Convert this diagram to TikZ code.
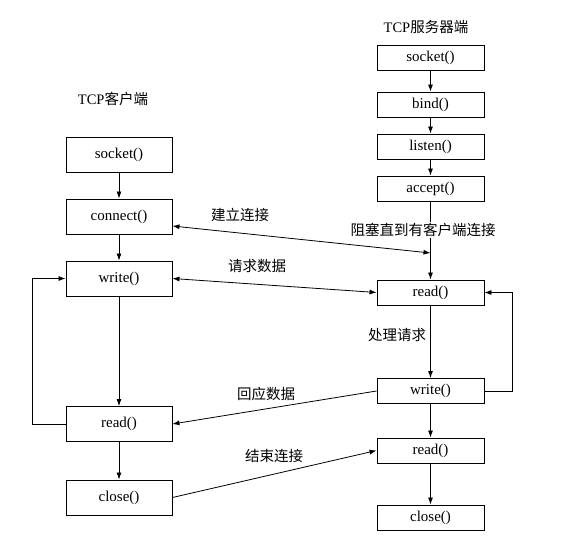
\documentclass[tikz,border=0pt]{standalone}
\usepackage{fontspec}
\setmainfont{Liberation Serif}
\newfontfamily\cjk{Noto Sans CJK SC}
\usetikzlibrary{arrows.meta}
\begin{document}
\begin{tikzpicture}[x=1pt,y=-1pt,
  every node/.style={font=\fontsize{14.5}{16}\selectfont},
  cbox/.style={draw,line width=0.9pt,minimum width=106pt,minimum height=35pt,inner sep=0pt,font=\fontsize{15}{16}\selectfont},
  sbox/.style={draw,line width=0.9pt,minimum width=107pt,minimum height=25pt,inner sep=0pt,font=\fontsize{15}{16}\selectfont},
  arr/.style={line width=0.8pt,-{Latex[length=7pt,width=5pt]}},
  darr/.style={line width=0.8pt,{Latex[length=7pt,width=5pt]}-{Latex[length=7pt,width=5pt]}},
  lab/.style={inner sep=1pt,font=\fontsize{14.5}{16}\selectfont\cjk}]
\useasboundingbox (0,0) rectangle (568,552);
% client
\node[cbox] (csocket)  at (119,154.5) {socket()};
\node[cbox] (cconnect) at (119,216.5) {connect()};
\node[cbox] (cwrite)   at (119,278.5) {write()};
\node[cbox] (cread)    at (119,424)   {read()};
\node[cbox] (cclose)   at (119,497.5) {close()};
\node (ctitle) at (113,99) {TCP{\cjk 客户端}};
% server
\node (stitle) at (426,27) {TCP{\cjk 服务器端}};
\node[sbox] (ssocket) at (430.5,57.5)  {socket()};
\node[sbox] (sbind)   at (430.5,104.5) {bind()};
\node[sbox] (slisten) at (430.5,146.5) {listen()};
\node[sbox] (saccept) at (430.5,188.5) {accept()};
\node[sbox] (sread)   at (430.5,292.5) {read()};
\node[sbox] (swrite)  at (430.5,391)   {write()};
\node[sbox] (sread2)  at (430.5,450.5) {read()};
\node[sbox] (sclose)  at (430.5,517.5) {close()};
\coordinate (blk) at (430.5,253);
% client vertical arrows
\draw[arr] (csocket) -- (cconnect);
\draw[arr] (cconnect) -- (cwrite);
\draw[arr] (cwrite) -- (cread);
\draw[arr] (cread) -- (cclose);
\draw[arr] (cread.west) -- ++(-33,0) |- (cwrite.west);
% server vertical arrows
\draw[arr] (ssocket) -- (sbind);
\draw[arr] (sbind) -- (slisten);
\draw[arr] (slisten) -- (saccept);
\draw[arr] (saccept) -- (sread);
\draw[arr] (sread) -- (swrite);
\draw[arr] (swrite) -- (sread2);
\draw[arr] (sread2) -- (sclose);
\draw[arr] (swrite.east) -- ++(28,0) |- (sread.east);
% cross connections
\draw[darr] ([yshift=-9.5pt]cconnect.east) -- (blk);
\draw[darr] (cwrite.east) -- (sread.west);
\draw[arr] (swrite.west) -- (cread.east);
\draw[arr] (cclose.east) -- (sread2.west);
% labels
\node[lab,fill=white] (lblock) at (423,230) {阻塞直到有客户端连接};
\node[lab] (lconn) at (240,215) {建立连接};
\node[lab] (lreq) at (257,266) {请求数据};
\node[lab] (lproc) at (397,335) {处理请求};
\node[lab] (lresp) at (266,394) {回应数据};
\node[lab] (lend) at (274,456) {结束连接};
\end{tikzpicture}
\end{document}
